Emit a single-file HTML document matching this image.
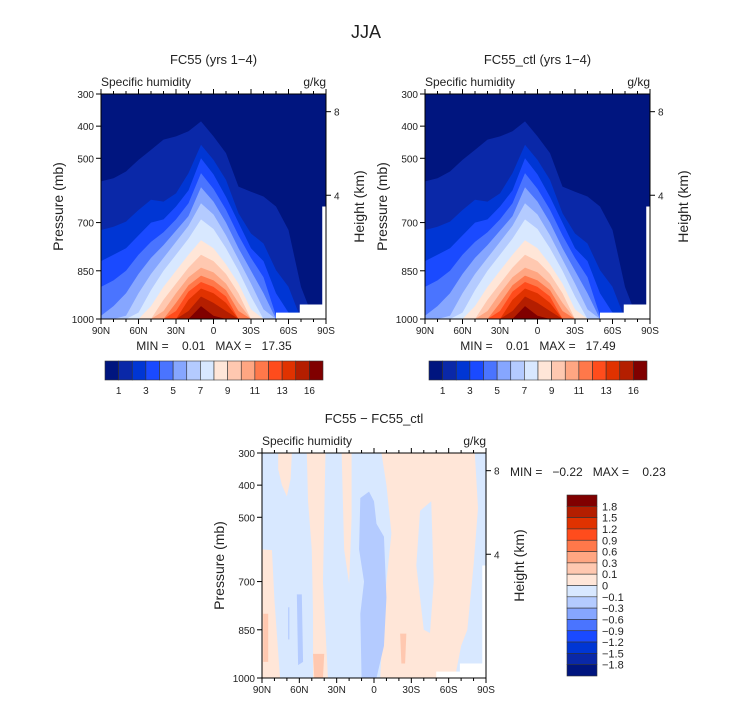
<!DOCTYPE html>
<html><head><meta charset="utf-8"><style>
body{margin:0;background:#fff}
svg{display:block;font-family:"Liberation Sans",sans-serif}
text{white-space:pre}
</style></head><body>
<svg id="fig" width="733" height="702" viewBox="0 0 733 702" xml:space="preserve">
<text x="366" y="38" font-size="18" text-anchor="middle" fill="#222">JJA</text>
</svg>
<script>
// ---- data ----
const lats = [90,80,70,60,50,40,30,20,10,0,-10,-20,-30,-40,-50,-60,-70,-80,-90];
const b1  = [572,562,541,505,474,442,432,416,385,432,484,588,604,619,650,723,900,1000,1000];
const b2  = [723,713,697,661,629,635,609,546,458,505,567,671,734,765,848,900,1000,1000,1000];
const b3  = [820,800,780,740,700,690,650,600,500,550,620,700,780,820,920,980,1000,1000,1000];
const b4  = [900,880,850,800,760,730,690,640,546,595,660,740,810,870,990,1000,1000,1000,1000];
const b5  = [990,960,920,860,810,770,725,680,590,635,700,780,850,920,1000,1000,1000,1000,1000];
const b6  = [1000,1000,990,920,860,810,760,710,640,675,740,815,890,970,1000,1000,1000,1000,1000];
const b7  = [1000,1000,1000,980,910,850,800,750,690,720,780,850,930,1000,1000,1000,1000,1000,1000];
const b8  = [1000,1000,1000,1000,960,900,850,800,755,780,830,890,970,1000,1000,1000,1000,1000,1000];
const b9  = [1000,1000,1000,1000,1000,940,890,840,800,820,860,920,1000,1000,1000,1000,1000,1000,1000];
const b10 = [1000,1000,1000,1000,1000,975,920,870,840,855,890,950,1000,1000,1000,1000,1000,1000,1000];
const b11 = [1000,1000,1000,1000,1000,1000,950,895,865,880,910,975,1000,1000,1000,1000,1000,1000,1000];
const b12 = [1000,1000,1000,1000,1000,1000,975,915,885,900,930,1000,1000,1000,1000,1000,1000,1000,1000];
const b13 = [1000,1000,1000,1000,1000,1000,1000,940,905,920,950,1000,1000,1000,1000,1000,1000,1000,1000];
const b14 = [1000,1000,1000,1000,1000,1000,1000,975,930,950,975,1000,1000,1000,1000,1000,1000,1000,1000];
const b15 = [1000,1000,1000,1000,1000,1000,1000,1000,960,990,1000,1000,1000,1000,1000,1000,1000,1000,1000];
const boundaries = [b1,b2,b3,b4,b5,b6,b7,b8,b9,b10,b11,b12,b13,b14,b15];
const missingLats = [-50,-50,-69,-69,-87,-87,-90,-90];
const missingTop  = [1000,980,980,955,955,650,650,1000];
const levelColors = ["#00157f","#0a28a8","#0036d4","#1a4aff","#4a74ff","#86a6ff","#b4cbff","#d8e8ff","#ffe6d8","#ffc8b0","#ffa682","#ff784a","#ff4c1c","#e03200","#b41e00","#800000"];
const qTickLabels = ["1","3","5","7","9","11","13","16"];
const diffLabels = ["1.8","1.5","1.2","0.9","0.6","0.3","0.1","0","\u22120.1","\u22120.3","\u22120.6","\u22120.9","\u22121.2","\u22121.5","\u22121.8"];
const pTicks = [300,400,500,700,850,1000];
const hTicks = [8,4];
const hTickP = [355,615];
const latTickLabels = ["90N","60N","30N","0","30S","60S","90S"];
const diffPeach = [
 [[90,600],[82,602],[80,758],[75.5,1000],[90,1000]],
 [[77,300],[66,300],[67,380],[70,435],[74,400],[77,350]],
 [[54,300],[39,300],[40,500],[41,700],[37,1000],[49,1000],[49,800],[50,600],[53,450]],
 [[26,300],[18,300],[18,500],[20,706],[24,600],[25,450]],
 [[-6,300],[-81,300],[-84,450],[-80,650],[-75,850],[-70,900],[-65,1000],[-5,1000],[-7,850],[-10,700],[-14,550],[-10,400]]
];
const diffBlue = [
 [[-37,480],[-46,450],[-48,700],[-45,860],[-40,850],[-34,650]],
 [[-81,300],[-90,300],[-90,1000],[-84,1000],[-84,500]]
];
const diffMidBlue = [
 [[11,440],[4,420],[0,450],[-2,520],[-8,560],[-10,750],[-8,900],[-2,1000],[10,1000],[11,800],[8,700],[12,600]],
 [[62,740],[58,740],[57,950],[61,960]],
 [[69,780],[68,780],[68,880],[69,880]]
];
const diffSalmon = [
 [[89,800],[85,800],[85,950],[89,950]],
 [[49,925],[40,925],[41,1000],[48,1000]],
 [[-21,862],[-26,862],[-25,955],[-22,955]]
];

// ---- drawing ----
const NS="http://www.w3.org/2000/svg";
const svg=document.getElementById('fig');
function mk(tag,attrs,parent){const e=document.createElementNS(NS,tag);for(const k in attrs)e.setAttribute(k,attrs[k]);(parent||svg).appendChild(e);return e;}
function txt(x,y,s,size,anchor,parent,rot){const t=mk('text',{x:x,y:y,'font-size':size,'text-anchor':anchor||'start',fill:'#222'},parent);if(rot)t.setAttribute('transform',`rotate(-90 ${x} ${y})`);t.textContent=s;return t;}

function panel(x0,y0,w,h,title,name,diff){
  const g=mk('g',{});
  
  
  const X=lat=>x0+(90-lat)/180*w;
  const Y=p=>y0+(p-300)/700*h;
  if(!diff){
    const bg=mk('rect',{x:x0,y:y0,width:w,height:h,fill:levelColors[0]},g);
    
    
    boundaries.forEach((b,k)=>{
      let d=`M${X(lats[0])},${Y(1000)}`;
      lats.forEach((la,i)=>{d+=` L${X(la)},${Y(b[i])}`;});
      d+=` L${X(lats[lats.length-1])},${Y(1000)} Z`;
      const pth=mk('path',{d:d,fill:levelColors[k+1]},g);
      
      
    });
  } else {
    const bg=mk('rect',{x:x0,y:y0,width:w,height:h,fill:levelColors[7]},g);
    
    
    const polys=(arr,col,nm)=>arr.forEach(poly=>{
      const d='M'+poly.map(v=>X(v[0])+','+Y(v[1])).join(' L')+' Z';
      const pth=mk('path',{d:d,fill:col},g);
      
      
    });
    polys(diffPeach,levelColors[8],'diff-positive-region');
    polys(diffBlue,levelColors[7],'diff-negative-region');
    polys(diffMidBlue,levelColors[6],'diff-negative-strong-region');
    polys(diffSalmon,levelColors[9],'diff-positive-strong-region');
  }
  let md='M'+missingLats.map((la,i)=>X(la)+','+Y(missingTop[i])).join(' L')+' Z';
  const mp=mk('path',{d:md,fill:'#fff'},g);
  
  
  const fr=mk('rect',{x:x0,y:y0,width:w,height:h,fill:'none',stroke:'#000','stroke-width':1},g);
  
  
  for(let la=90;la>=-90;la-=10){
    const maj=la%30===0;
    mk('line',{x1:X(la),x2:X(la),y1:y0,y2:y0-(maj?5:3),stroke:'#000'},g);
    mk('line',{x1:X(la),x2:X(la),y1:y0+h,y2:y0+h+(maj?5:3),stroke:'#000'},g);
  }
  latTickLabels.forEach((s,i)=>{const t=txt(X(90-i*30),y0+h+15,s,10,'middle',g);});
  pTicks.forEach(p=>{
    mk('line',{x1:x0,x2:x0-5,y1:Y(p),y2:Y(p),stroke:'#000'},g);
    const t=txt(x0-7,Y(p)+4,String(p),10,'end',g);
    
  });
  hTicks.forEach((hv,i)=>{
    mk('line',{x1:x0+w,x2:x0+w+5,y1:Y(hTickP[i]),y2:Y(hTickP[i]),stroke:'#000'},g);
    const t=txt(x0+w+8,Y(hTickP[i])+4,String(hv),10,'start',g);
    
  });
  const yt=txt(x0-38,y0+h/2,'Pressure (mb)',14,'middle',g,true);
  
  const ht=txt(x0+w+38,y0+h/2,'Height (km)',14,'middle',g,true);
  
  const st=txt(x0,y0-8,'Specific humidity',12,'start',g);
  
  const ut=txt(x0+w,y0-8,'g/kg',12,'end',g);
  
  const tt=txt(x0+w/2,y0-30,title,13,'middle',g);
  
  return {X,Y};
}
function hbar(x0,y0,w,h,name){
  const g=mk('g',{});
  
  
  const bw=w/levelColors.length;
  levelColors.forEach((c,i)=>{
    const r=mk('rect',{x:x0+i*bw,y:y0,width:bw,height:h,fill:c,stroke:'#333','stroke-width':0.6},g);
    
  });
  qTickLabels.forEach((s,i)=>{const t=txt(x0+(1+2*i)*bw,y0+h+14,s,10,'middle',g);});
}
panel(101,94,225,225,'FC55 (yrs 1\u22124)','panel-fc55',false);
const m1=txt(214,350,'MIN =    0.01   MAX =   17.35',12,'middle');

hbar(105,361,218,19,'colorbar-fc55');
panel(425,94,225,225,'FC55_ctl (yrs 1\u22124)','panel-fc55-ctl',false);
const m2=txt(538,350,'MIN =    0.01   MAX =   17.49',12,'middle');

hbar(429,361,218,19,'colorbar-fc55-ctl');
panel(262,453,224,225,'FC55 \u2212 FC55_ctl','panel-difference',true);
const m3=txt(510,476,'MIN =   \u22120.22   MAX =    0.23',12,'start');

(function(){
  const g=mk('g',{});
  
  
  const x0=567,y0=495,w=30,h=181,bh=h/levelColors.length;
  levelColors.slice().reverse().forEach((c,i)=>{
    const r=mk('rect',{x:x0,y:y0+i*bh,width:w,height:bh,fill:c,stroke:'#333','stroke-width':0.6},g);
    
  });
  diffLabels.forEach((s,i)=>{const t=txt(602,y0+(i+1)*bh+4,s,11,'start',g);});
})();
</script>
</body></html>
